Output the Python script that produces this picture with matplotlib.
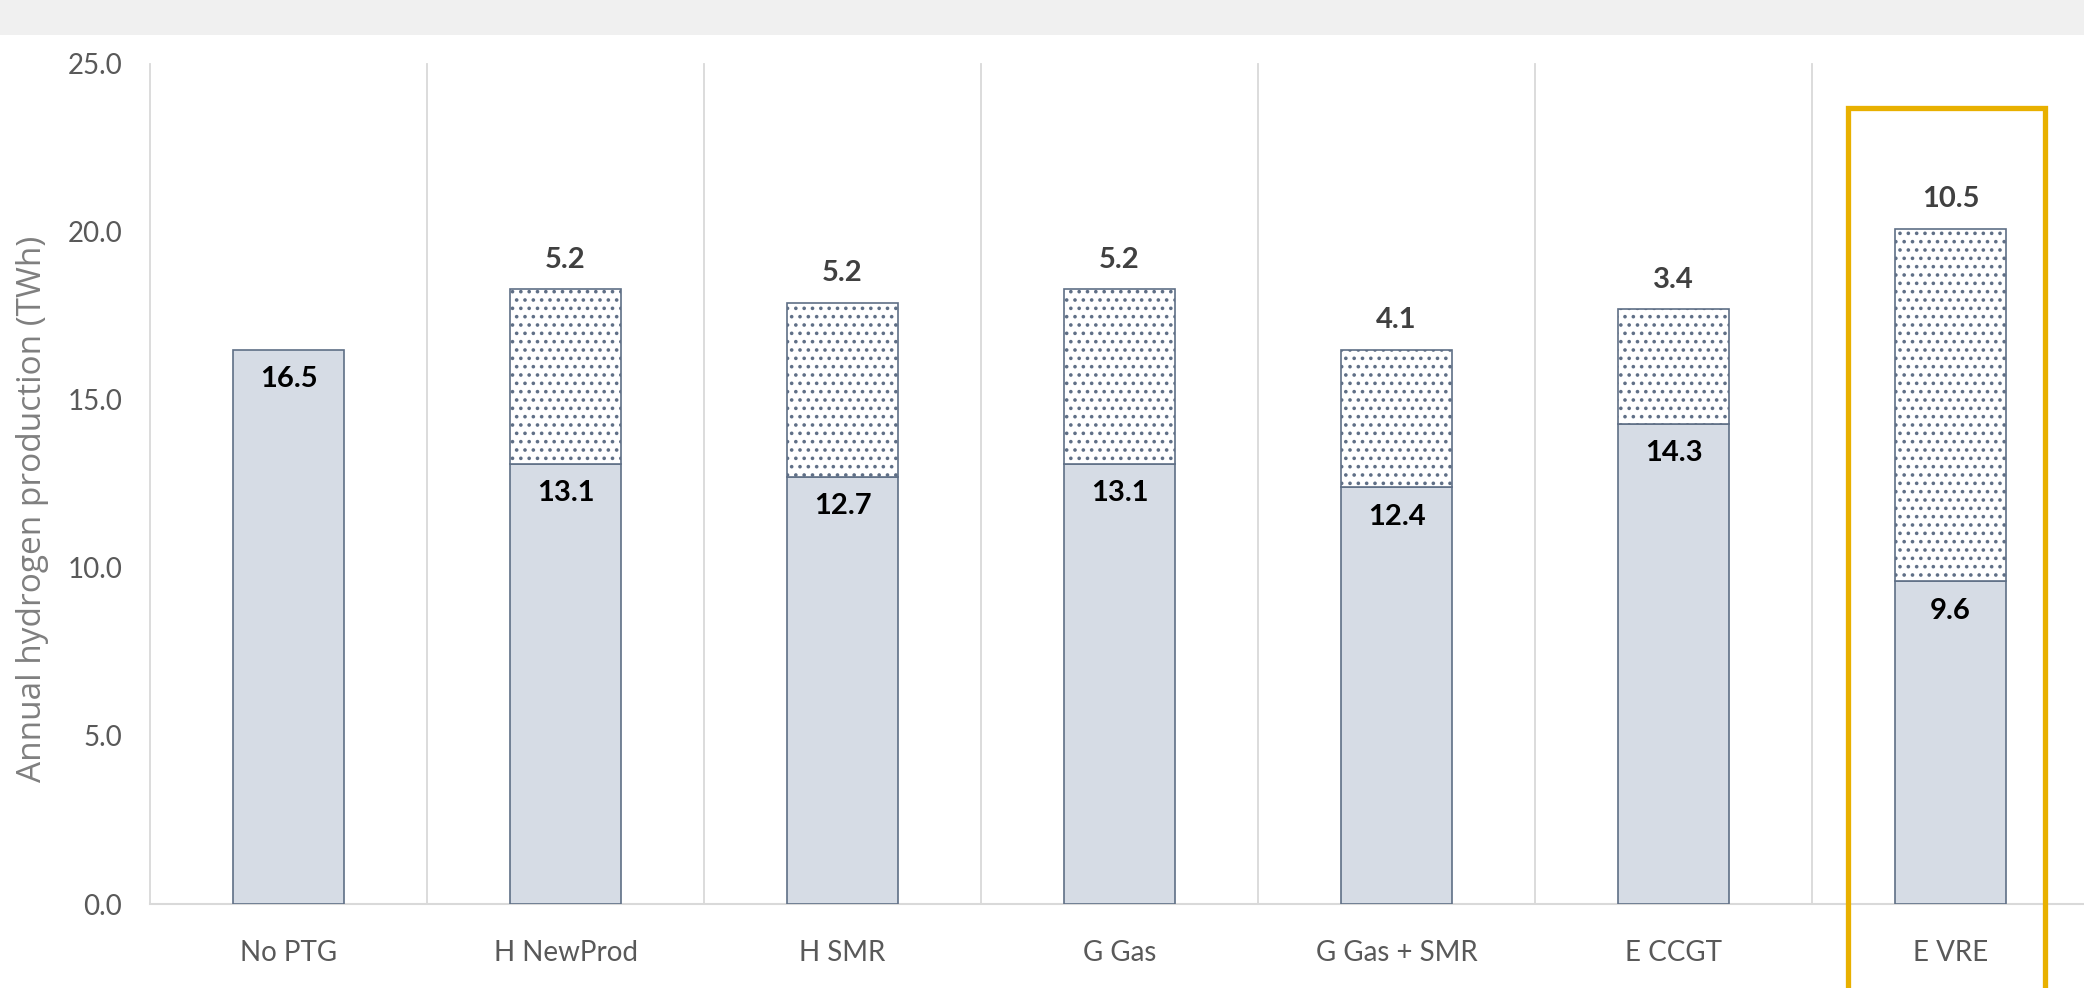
import numpy as np
import matplotlib
matplotlib.use("Agg")
import matplotlib.pyplot as plt
from matplotlib.patches import Rectangle

# data
categories = ["No PTG", "H NewProd", "H SMR", "G Gas", "G Gas + SMR", "E CCGT", "E VRE"]
base_vals = [16.5, 13.1, 12.7, 13.1, 12.4, 14.3, 9.6]
extra_vals = [0.0, 5.2, 5.2, 5.2, 4.1, 3.4, 10.5]
yticks = [0.0, 5.0, 10.0, 15.0, 20.0, 25.0]

W, H = 2084, 988
fig = plt.figure(figsize=(W / 100, H / 100), dpi=100)
fig.patch.set_facecolor("white")

# grey strip at top
fig.add_artist(Rectangle((0, 1 - 35 / H), 1, 35 / H, transform=fig.transFigure,
                         facecolor="#f0f0f0", edgecolor="none"))

left, right = 150, 2089
bot, top = 904, 64
ax = fig.add_axes([left / W, 1 - bot / H, (right - left) / W, (bot - top) / H])

fnt = ["Lato", "DejaVu Sans"]
plt.rcParams["hatch.linewidth"] = 1.4
plt.rcParams["hatch.color"] = "#55657C"

x = np.arange(len(categories))
bw = 0.40
ax.bar(x, base_vals, bw, color="#D6DCE5", edgecolor="#5F6F86", linewidth=1.2, zorder=3)
mask = np.array(extra_vals) > 0
ax.bar(x[mask], np.array(extra_vals)[mask], bw, bottom=np.array(base_vals)[mask],
       color="white", edgecolor="#5F6F86", linewidth=1.2, hatch="..", zorder=3)

for i in range(len(categories)):
    b = base_vals[i]
    e = extra_vals[i]
    ax.annotate(f"{b:.1f}", (x[i], b), xytext=(0, -21), textcoords="offset points",
                ha="center", va="center", fontsize=21, fontweight="bold",
                color="black", family=fnt, zorder=5)
    if e > 0:
        ax.annotate(f"{e:.1f}", (x[i], b + e), xytext=(0, 21), textcoords="offset points",
                    ha="center", va="center", fontsize=21, fontweight="bold",
                    color="#404040", family=fnt, zorder=5)

# vertical separators between categories
for s in np.arange(-0.5, len(categories) + 0.5, 1.0):
    ax.plot([s, s], [0, 25], color="#d9d9d9", lw=1.3, zorder=1, clip_on=False)

ax.set_xlim(-0.5, len(categories) - 0.5)
ax.set_ylim(0, 25)
ax.set_yticks(yticks)
ax.set_yticklabels([f"{t:.1f}" for t in yticks], family=fnt, fontsize=20, color="#595959")
ax.set_xticks(x)
ax.set_xticklabels(categories, family=fnt, fontsize=20, color="#595959")
ax.tick_params(axis="both", length=0)
ax.tick_params(axis="x", pad=26)
ax.tick_params(axis="y", pad=20)
for sp in ["top", "right", "left"]:
    ax.spines[sp].set_visible(False)
ax.spines["bottom"].set_color("#d9d9d9")
ax.spines["bottom"].set_linewidth(1.5)

ax.set_ylabel("Annual hydrogen production (TWh)", family=["Open Sans", "DejaVu Sans"],
              fontsize=24, color="#7f7f7f")
ax.yaxis.set_label_coords(-0.052, 0.47)

# highlight box around E VRE
hl = Rectangle((x[-1] - 0.015 - 0.356, -5), 0.712, 23.7 + 5, fill=False,
               edgecolor="#E8B000", linewidth=3.8, clip_on=False, zorder=6)
ax.add_patch(hl)

fig.savefig("out.png", dpi=100)
